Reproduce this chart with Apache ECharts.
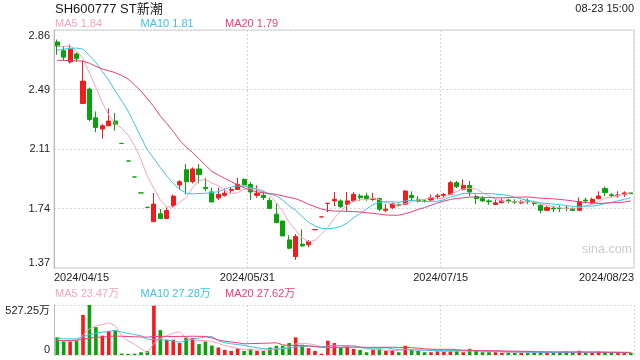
<!DOCTYPE html>
<html><head><meta charset="utf-8">
<script src="https://cdn.jsdelivr.net/npm/echarts@6/dist/echarts.min.js"></script>
<style>html,body{margin:0;padding:0;background:#fff}#c{width:640px;height:360px}</style>
</head><body><div id="c"></div>
<script>
const dates = ['2024/04/15','2024/04/16','2024/04/17','2024/04/18','2024/04/22','2024/04/23','2024/04/24','2024/04/25','2024/04/26','2024/04/29','2024/04/30',
'2024/05/06','2024/05/07','2024/05/08','2024/05/09','2024/05/10','2024/05/13','2024/05/14','2024/05/15','2024/05/16','2024/05/17','2024/05/20','2024/05/21','2024/05/22','2024/05/23','2024/05/24','2024/05/27','2024/05/28','2024/05/29','2024/05/30','2024/05/31',
'2024/06/03','2024/06/04','2024/06/05','2024/06/06','2024/06/07','2024/06/11','2024/06/12','2024/06/13','2024/06/14','2024/06/17','2024/06/18','2024/06/19','2024/06/20','2024/06/21','2024/06/24','2024/06/25','2024/06/26','2024/06/27','2024/06/28',
'2024/07/01','2024/07/02','2024/07/03','2024/07/04','2024/07/05','2024/07/08','2024/07/09','2024/07/10','2024/07/11','2024/07/12','2024/07/15','2024/07/16','2024/07/17','2024/07/18','2024/07/19','2024/07/22','2024/07/23','2024/07/24','2024/07/25','2024/07/26','2024/07/29','2024/07/30','2024/07/31',
'2024/08/01','2024/08/02','2024/08/05','2024/08/06','2024/08/07','2024/08/08','2024/08/09','2024/08/12','2024/08/13','2024/08/14','2024/08/15','2024/08/16','2024/08/19','2024/08/20','2024/08/21','2024/08/22','2024/08/23'];

const opens = [2.785,2.73,2.66,2.71,2.40,2.49,2.31,2.24,2.26,2.29,
2.15,2.04,1.94,1.84,1.75,1.66,1.71,1.68,1.76,1.89,
1.985,1.91,1.99,1.875,1.846,1.808,1.825,1.856,1.862,1.925,
1.893,1.825,1.825,1.793,1.707,1.664,1.546,1.442,1.519,1.515,
1.61,1.69,1.775,1.79,1.79,1.769,1.79,1.821,1.821,1.80,
1.804,1.731,1.748,1.765,1.769,1.825,1.80,1.79,1.796,1.817,
1.825,1.831,1.904,1.862,1.887,1.817,1.804,1.79,1.768,1.779,
1.795,1.787,1.777,1.79,1.778,1.763,1.731,1.745,1.745,1.745,
1.742,1.731,1.795,1.779,1.804,1.867,1.828,1.822,1.83,1.84];
const closes = [2.76,2.69,2.74,2.68,2.54,2.30,2.25,2.26,2.29,2.27,
2.15,2.04,1.94,1.84,1.75,1.77,1.68,1.73,1.82,1.91,
1.91,1.99,1.955,1.867,1.783,1.831,1.838,1.862,1.893,1.89,
1.846,1.838,1.812,1.743,1.654,1.571,1.494,1.567,1.508,1.535,
1.61,1.69,1.775,1.80,1.754,1.79,1.831,1.81,1.805,1.806,
1.738,1.738,1.773,1.762,1.852,1.81,1.79,1.787,1.81,1.822,
1.83,1.904,1.879,1.887,1.846,1.804,1.79,1.785,1.778,1.79,
1.788,1.782,1.782,1.785,1.773,1.731,1.748,1.74,1.742,1.742,
1.73,1.785,1.79,1.80,1.821,1.842,1.823,1.827,1.84,1.835];
const lows = [2.705,2.67,2.65,2.66,2.40,2.29,2.22,2.18,2.26,2.23,
2.15,2.04,1.94,1.84,1.75,1.66,1.68,1.68,1.75,1.86,
1.83,1.90,1.90,1.85,1.783,1.796,1.817,1.838,1.858,1.89,
1.796,1.81,1.795,1.74,1.65,1.57,1.487,1.421,1.504,1.50,
1.61,1.69,1.72,1.758,1.745,1.727,1.785,1.79,1.79,1.79,
1.725,1.72,1.738,1.755,1.765,1.79,1.78,1.78,1.79,1.80,
1.81,1.831,1.87,1.855,1.82,1.77,1.785,1.765,1.765,1.775,
1.775,1.77,1.77,1.77,1.76,1.712,1.727,1.72,1.72,1.725,
1.73,1.731,1.775,1.77,1.80,1.82,1.81,1.81,1.815,1.835];
const highs = [2.80,2.76,2.77,2.72,2.67,2.50,2.35,2.27,2.37,2.34,
2.15,2.04,1.94,1.84,1.75,1.84,1.74,1.75,1.83,1.92,
2.02,2.00,2.02,1.935,1.873,1.873,1.867,1.877,1.935,1.93,
1.908,1.887,1.85,1.81,1.775,1.665,1.575,1.582,1.612,1.545,
1.61,1.69,1.775,1.846,1.80,1.846,1.846,1.835,1.84,1.84,
1.81,1.77,1.78,1.775,1.858,1.85,1.82,1.80,1.83,1.835,
1.84,1.915,1.915,1.925,1.915,1.83,1.82,1.80,1.80,1.805,
1.805,1.80,1.795,1.805,1.79,1.769,1.76,1.76,1.762,1.76,
1.75,1.812,1.81,1.81,1.85,1.88,1.84,1.85,1.85,1.84];

const volumes = [186,143,143,151,423,527.25,294,204,251,262,
15,12,14,29,43,520,262,161,161,126,
186,179,115,143,100,79,54,43,72,43,
65,43,43,79,97,97,126,186,108,72,
43,14,151,126,79,90,65,54,29,54,
65,43,54,29,97,54,43,29,29,43,
36,54,43,29,65,43,29,29,29,22,
30,22,25,28,28,35,25,25,26,35.6,
28,45,22,24,36.45,28,25,20,20,24.35];

const ma5 = [2.762,2.755,2.762,2.73,2.682,2.59,2.502,2.406,2.328,2.274,
2.244,2.202,2.138,2.048,1.944,1.868,1.796,1.754,1.75,1.782,
1.81,1.872,1.917,1.926,1.901,1.885,1.855,1.836,1.841,1.863,
1.866,1.866,1.856,1.826,1.779,1.724,1.655,1.606,1.559,1.535,
1.543,1.582,1.624,1.682,1.726,1.762,1.79,1.797,1.798,1.808,
1.798,1.779,1.772,1.763,1.773,1.787,1.797,1.80,1.81,1.804,
1.808,1.831,1.849,1.864,1.869,1.864,1.841,1.822,1.801,1.789,
1.786,1.785,1.784,1.785,1.782,1.771,1.764,1.755,1.747,1.741,
1.74,1.748,1.758,1.769,1.785,1.808,1.815,1.823,1.831,1.84];
const ma10 = [2.733,2.74,2.745,2.747,2.74,2.70,2.656,2.60,2.545,2.478,
2.417,2.352,2.272,2.188,2.109,2.056,1.999,1.946,1.899,1.863,
1.839,1.834,1.836,1.838,1.842,1.848,1.863,1.877,1.884,1.882,
1.876,1.86,1.846,1.834,1.821,1.795,1.76,1.731,1.692,1.657,
1.633,1.618,1.615,1.62,1.63,1.652,1.686,1.71,1.74,1.767,
1.78,1.785,1.785,1.781,1.791,1.793,1.788,1.786,1.787,1.788,
1.797,1.814,1.825,1.837,1.837,1.836,1.836,1.836,1.833,1.829,
1.825,1.813,1.803,1.793,1.786,1.778,1.774,1.77,1.766,1.761,
1.756,1.756,1.757,1.758,1.763,1.774,1.782,1.79,1.80,1.81];
const ma20 = [2.67,2.67,2.668,2.667,2.665,2.652,2.632,2.616,2.605,2.593,
2.575,2.553,2.516,2.478,2.428,2.38,2.32,2.275,2.225,2.17,
2.128,2.093,2.054,2.013,1.975,1.952,1.931,1.911,1.891,1.872,
1.857,1.847,1.841,1.836,1.831,1.821,1.812,1.804,1.788,1.769,
1.754,1.739,1.73,1.727,1.726,1.724,1.723,1.721,1.716,1.712,
1.707,1.702,1.70,1.701,1.71,1.722,1.737,1.748,1.763,1.778,
1.789,1.799,1.805,1.809,1.814,1.814,1.812,1.811,1.81,1.809,
1.811,1.813,1.814,1.815,1.811,1.807,1.805,1.803,1.799,1.795,
1.79,1.784,1.78,1.776,1.774,1.776,1.778,1.78,1.783,1.79];

const vma5 = [160,150,150,155,209.2,277.45,307.65,319.85,339.85,307.65,
205.2,148.8,110.8,66.4,22.6,123.6,173.6,203,229.4,246,
179.2,162.6,153.4,149.8,144.6,123.2,98.2,83.8,69.6,58.2,
55.4,53.2,53.2,54.6,65.4,71.8,88.4,117,122.8,117.8,
107,84.6,77.6,81.2,82.6,92,102.2,82.8,63.4,58.4,
53.4,49,49,49,57.6,55.4,55.4,50.4,50.4,39.6,
36,38.2,41,41,45.4,46.8,41.8,39,39,30.4,
27.8,26.4,25.6,25.4,26.6,27.6,28.2,28.2,27.8,29.3,
27.9,31.9,31.3,30.9,31.09,31.09,27.09,26.69,25.89,23.47];
const vma10 = [175,172,170,170,190,215,230,240,250,258.4,
241.3,228.2,215.3,203.1,165.1,164.4,161.2,156.9,147.9,134.3,
151.4,168.1,178.2,189.6,195.3,151.2,130.4,118.6,109.7,101.4,
89.3,75.7,68.5,62.1,61.8,63.6,70.8,85.1,88.7,91.6,
89.4,86.5,97.3,102,100.2,99.5,93.4,80.2,72.3,70.5,
72.7,75.6,65.9,56.2,58,54.4,52.2,49.7,49.7,48.6,
45.7,46.8,45.7,45.7,42.5,41.4,40,40,40,37.9,
37.3,34.1,32.3,32.2,28.5,27.7,27.3,26.9,26.6,27.96,
27.76,30.06,29.76,29.36,30.2,29.5,29.5,29.0,28.4,27.28];
const vma20 = [150,152,154,156,165,178,185,190,195,200,
198,195,192,190,188,195,197,196,195,196.4,
196.4,198.2,196.8,196.4,180.2,157.8,145.8,137.8,128.8,117.9,
120.4,121.9,123.4,125.9,128.6,107.4,100.6,101.9,99.2,96.5,
89.4,81.1,82.9,82.1,81,81.6,82.1,82.7,80.5,81.1,
81.1,81.1,81.6,79.1,79.1,77,72.8,65,61,59.6,
59.2,61.2,55.8,51,50.3,47.9,46.1,44.9,44.9,43.3,
41.5,40.5,39,39,35.5,34.6,33.7,33.5,33.3,32.9,
32.5,32.1,31,30.8,29.4,28.6,28.4,28,27.5,27.62];

const priceTickLabels = ['1.37','1.74','2.11','2.49','2.86'];
const volTickLabels = ['0','527.25万'];
const xTickLabels = ['2024/04/15','2024/05/31','2024/07/15','2024/08/23'];
const priceMin = 1.37, priceMax = 2.86, volMax = 527.25;
const titleText = 'SH600777 ST新潮';
const timeText = '08-23 15:00';
const watermark = 'sina.com';

const RED = '#f21c1c', GREEN = '#0aa20a';
const C5 = '#f7a3c0', C10 = '#3cc4e2', C20 = '#eb3e78';
const FONT = 'Arial, "Liberation Sans", "Noto Sans CJK SC", sans-serif';

const last = a => a[a.length - 1];
function sign(i) {
  if (closes[i] > opens[i]) return 1;
  if (closes[i] < opens[i]) return -1;
  return (i > 0 && closes[i - 1] <= closes[i]) ? 1 : -1;
}
const candleData = dates.map((d, i) => [opens[i], closes[i], lows[i], highs[i]]);
const volData = volumes.map((v, i) => ({ value: v, itemStyle: { color: sign(i) > 0 ? RED : GREEN } }));

const dashed = { show: true, lineStyle: { color: '#d6d6d6', type: [2, 2], width: 1 } };
const hideAll = { axisLine: { show: false }, axisTick: { show: false }, axisLabel: { show: false }, splitLine: { show: false } };
const lbl = { fontSize: 11, color: '#222', fontFamily: FONT };

function lineSeries(data, color, xi, yi) {
  return { type: 'line', data: data, xAxisIndex: xi, yAxisIndex: yi, showSymbol: false, symbol: 'none',
    lineStyle: { width: 1, color: color }, itemStyle: { color: color }, z: 3, silent: true };
}
function txt(x, y, text, color, size, align) {
  return { type: 'text', x: x, y: y, silent: true,
    style: { text: text, fill: color, fontSize: size, fontFamily: FONT, align: align || 'left', verticalAlign: 'middle' } };
}

const chart = echarts.init(document.getElementById('c'), null, { renderer: 'canvas' });
chart.setOption({
  animation: false,
  backgroundColor: '#fff',
  grid: [
    { left: 54, right: 6, top: 30, height: 238, show: true, borderColor: '#cfcfcf', borderWidth: 1, backgroundColor: 'transparent' },
    { left: 54, right: 6, top: 305, height: 50 }
  ],
  xAxis: [
    Object.assign({ type: 'category', gridIndex: 0, data: dates, boundaryGap: true }, hideAll),
    { type: 'value', gridIndex: 0, min: 0, max: 3, interval: 1, position: 'bottom',
      axisLine: { show: false }, axisTick: { show: false }, splitLine: dashed,
      axisLabel: Object.assign({ margin: 4, formatter: v => xTickLabels[v] || '', alignMinLabel: 'left', alignMaxLabel: 'right' }, lbl) },
    Object.assign({ type: 'category', gridIndex: 1, data: dates, boundaryGap: true }, hideAll),
    { type: 'value', gridIndex: 1, min: 0, max: 3, interval: 1, position: 'bottom',
      axisLine: { show: false }, axisTick: { show: false }, axisLabel: { show: false }, splitLine: dashed }
  ],
  yAxis: [
    Object.assign({ type: 'value', gridIndex: 0, min: priceMin, max: priceMax, position: 'right' }, hideAll),
    { type: 'value', gridIndex: 0, min: 0, max: 4, interval: 1, position: 'left',
      axisLine: { show: true, lineStyle: { color: '#b8b8b8' } }, axisTick: { show: false }, splitLine: dashed,
      axisLabel: Object.assign({ margin: 4, formatter: v => priceTickLabels[v] || '', verticalAlignMinLabel: 'bottom', verticalAlignMaxLabel: 'top' }, lbl) },
    { type: 'value', gridIndex: 1, min: 0, max: volMax, position: 'right',
      axisLine: { show: true, lineStyle: { color: '#cfcfcf' } }, axisTick: { show: false }, axisLabel: { show: false }, splitLine: { show: false } },
    { type: 'value', gridIndex: 1, min: 0, max: 1, interval: 1, position: 'left',
      axisLine: { show: true, lineStyle: { color: '#b8b8b8' } }, axisTick: { show: false }, splitLine: dashed,
      axisLabel: Object.assign({ margin: 4, formatter: v => volTickLabels[v] || '', verticalAlignMinLabel: 'bottom', verticalAlignMaxLabel: 'top' }, lbl) }
  ],
  series: [
    { type: 'candlestick', xAxisIndex: 0, yAxisIndex: 0, data: candleData, barWidth: 4.6,
      itemStyle: { color: RED, color0: GREEN, borderColor: RED, borderColor0: GREEN, borderWidth: 1 }, z: 2 },
    lineSeries(ma5, C5, 0, 0),
    lineSeries(ma10, C10, 0, 0),
    lineSeries(ma20, C20, 0, 0),
    { type: 'bar', xAxisIndex: 2, yAxisIndex: 2, data: volData, barWidth: 3.6, z: 2 },
    lineSeries(vma5, C5, 2, 2),
    lineSeries(vma10, C10, 2, 2),
    lineSeries(vma20, C20, 2, 2)
  ],
  graphic: [
    txt(55, 9, titleText, '#1a1a1a', 13),
    txt(634, 8.5, timeText, '#1a1a1a', 11, 'right'),
    txt(55, 24, 'MA5 ' + last(ma5).toFixed(2), C5, 11),
    txt(140.5, 24, 'MA10 ' + last(ma10).toFixed(2), C10, 11),
    txt(225, 24, 'MA20 ' + last(ma20).toFixed(2), C20, 11),
    txt(55, 294, 'MA5 ' + last(vma5).toFixed(2) + '万', C5, 11),
    txt(140.5, 294, 'MA10 ' + last(vma10).toFixed(2) + '万', C10, 11),
    txt(225, 294, 'MA20 ' + last(vma20).toFixed(2) + '万', C20, 11),
    txt(582, 249.5, watermark, '#cccccc', 12.5)
  ]
});
</script></body></html>
